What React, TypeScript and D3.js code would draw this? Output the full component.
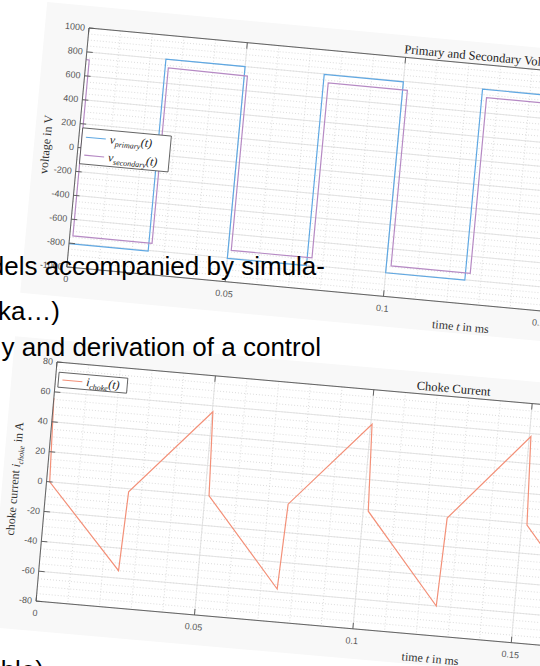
import * as d3 from 'd3';

// time in ms, voltage in V
const tPrimary = [0, 0.025, 0.025, 0.05, 0.05, 0.075, 0.075, 0.1, 0.1, 0.125, 0.125, 0.15, 0.15, 0.175, 0.175, 0.2, 0.2, 0.225, 0.225, 0.25];
const vPrimary = [-805, -805, 800, 800, -805, -805, 795, 795, -803, -803, 795, 795, -803, -803, 795, 795, -803, -803, 795, 795];
const tSecondary = [0, 0.001, 0.001, 0.026, 0.026, 0.051, 0.051, 0.0765, 0.0765, 0.1015, 0.1015, 0.1265, 0.1265, 0.1515, 0.1515, 0.1765, 0.1765, 0.2015, 0.2015, 0.2265, 0.2265, 0.25];
const vSecondary = [735, 735, -738, -738, 729, 723, -736, -736, 728, 728, -742, -742, 728, 728, -740, -740, 728, 728, -740, -740, 728, 728];

// choke current in A
const tChoke = [0, 0.001, 0.025, 0.026, 0.0502, 0.0513, 0.0752, 0.0763, 0.1004, 0.1016, 0.1255, 0.1265, 0.1505, 0.1517, 0.1755, 0.1765, 0.2005, 0.2017, 0.2255, 0.2265, 0.25];
const iChoke = [56, 0, -55, -2, 56, 0, -58, -1, 57, -1, -60, -1, 58, -1, -60, -1, 58, -1, -60, -1, 57];

const xTicks = [0, 0.05, 0.1, 0.15, 0.2, 0.25];
const voltTicks = [-1000, -800, -600, -400, -200, 0, 200, 400, 600, 800, 1000];
const chokeTicks = [-80, -60, -40, -20, 0, 20, 40, 60, 80];

const slideLines = ['dels accompanied by simula-', 'ka…)', 'y and derivation of a control', 'ble)'];

const PW = 795;
const PH = 240;
const serif = '"Liberation Serif", "DejaVu Serif", serif';
const sans = '"Liberation Sans", Arial, sans-serif';

type Series = { t: number[]; v: number[]; color: string };

function Chart({
  id, x0, y0, angle, yDomain, yTicks, yMinorStep, series, title, yLabel, legend, legendBox,
}: {
  id: string;
  x0: number;
  y0: number;
  angle: number;
  yDomain: [number, number];
  yTicks: number[];
  yMinorStep: number;
  series: Series[];
  title: string;
  yLabel: React.ReactNode;
  legend: { color: string; label: React.ReactNode }[];
  legendBox: { x: number; y: number; w: number; h: number };
}) {
  const x = d3.scaleLinear().domain([0, 0.25]).range([0, PW]);
  const y = d3.scaleLinear().domain(yDomain).range([PH, 0]);
  const xMinor = d3.range(0, 0.2501, 0.01);
  const yMinor = d3.range(yDomain[0], yDomain[1] + 0.001, yMinorStep);
  const line = d3.line<[number, number]>().x((d) => x(d[0])).y((d) => y(d[1]));
  const rowH = legendBox.h / legend.length;

  return (
    <g transform={`translate(${x0},${y0}) rotate(${angle})`}>
      <defs>
        <clipPath id={`clip-${id}`}>
          <rect x={0} y={0} width={PW} height={PH} />
        </clipPath>
      </defs>
      <rect x={-44} y={-22} width={PW + 80} height={PH + 52} fill="#f8f8f8" />
      <rect x={0} y={0} width={PW} height={PH} fill="#ffffff" />
      {xMinor.map((t) => (
        <line key={`xm${t}`} x1={x(t)} x2={x(t)} y1={0} y2={PH} stroke="#cfcfcf" strokeWidth={0.7} strokeDasharray="1 2" />
      ))}
      {yMinor.map((v) => (
        <line key={`ym${v}`} x1={0} x2={PW} y1={y(v)} y2={y(v)} stroke="#cfcfcf" strokeWidth={0.7} strokeDasharray="1 2" />
      ))}
      {xTicks.map((t) => (
        <line key={`xg${t}`} x1={x(t)} x2={x(t)} y1={0} y2={PH} stroke="#dedede" strokeWidth={0.8} />
      ))}
      {yTicks.map((v) => (
        <line key={`yg${v}`} x1={0} x2={PW} y1={y(v)} y2={y(v)} stroke="#dedede" strokeWidth={0.8} />
      ))}
      <g clipPath={`url(#clip-${id})`}>
        {series.map((s, i) => (
          <path
            key={i}
            d={line(s.t.map((t, j) => [t, s.v[j]] as [number, number])) ?? ''}
            fill="none"
            stroke={s.color}
            strokeWidth={1.2}
          />
        ))}
      </g>
      <rect x={0} y={0} width={PW} height={PH} fill="none" stroke="#5a5a5a" strokeWidth={0.9} />
      {xTicks.map((t) => (
        <g key={`xt${t}`}>
          <line x1={x(t)} x2={x(t)} y1={PH} y2={PH - 6} stroke="#5a5a5a" strokeWidth={0.9} />
          <line x1={x(t)} x2={x(t)} y1={0} y2={6} stroke="#5a5a5a" strokeWidth={0.9} />
          <text x={x(t)} y={PH + 15} textAnchor="middle" fontFamily={sans} fontSize={9} fill="#555">
            {t}
          </text>
        </g>
      ))}
      {yTicks.map((v) => (
        <g key={`yt${v}`}>
          <line x1={0} x2={6} y1={y(v)} y2={y(v)} stroke="#5a5a5a" strokeWidth={0.9} />
          <text x={-4} y={y(v) + 3} textAnchor="end" fontFamily={sans} fontSize={9} fill="#555">
            {v}
          </text>
        </g>
      ))}
      <text x={PW / 2} y={-4} textAnchor="middle" fontFamily={serif} fontSize={12.5} fill="#222">
        {title}
      </text>
      <text x={PW / 2} y={PH + 27} textAnchor="middle" fontFamily={serif} fontSize={12} fill="#333">
        time <tspan fontStyle="italic">t</tspan> in ms
      </text>
      <text
        transform={`translate(-28,${PH / 2}) rotate(-90)`}
        textAnchor="middle"
        fontFamily={serif}
        fontSize={12}
        fill="#333"
      >
        {yLabel}
      </text>
      <rect x={legendBox.x} y={legendBox.y} width={legendBox.w} height={legendBox.h} fill="#ffffff" stroke="#444" strokeWidth={0.8} />
      {legend.map((l, i) => {
        const cy = legendBox.y + rowH * (i + 0.5);
        return (
          <g key={i}>
            <line x1={legendBox.x + 4} x2={legendBox.x + 24} y1={cy} y2={cy} stroke={l.color} strokeWidth={1.1} />
            <text x={legendBox.x + 28} y={cy + 4} fontFamily={serif} fontSize={12} fontStyle="italic" fill="#222">
              {l.label}
            </text>
          </g>
        );
      })}
    </g>
  );
}

export default function App() {
  const blue = '#5fa8e3';
  const purple = '#b68ac4';
  const orange = '#f39078';
  return (
    <svg width={540} height={666} style={{ position: 'absolute', left: 0, top: 0, background: '#fff' }}>
      <Chart
        id="volt"
        x0={89}
        y0={28}
        angle={5.3}
        yDomain={[-1000, 1000]}
        yTicks={voltTicks}
        yMinorStep={50}
        series={[
          { t: tPrimary, v: vPrimary, color: blue },
          { t: tSecondary, v: vSecondary, color: purple },
        ]}
        title="Primary and Secondary Voltages"
        yLabel="voltage in V"
        legend={[
          { color: blue, label: <>v<tspan fontSize={8} dy={3}>primary</tspan><tspan dy={-3}>(t)</tspan></> },
          { color: purple, label: <>v<tspan fontSize={8} dy={3}>secondary</tspan><tspan dy={-3}>(t)</tspan></> },
        ]}
        legendBox={{ x: 3, y: 100, w: 89, h: 36 }}
      />
      <Chart
        id="choke"
        x0={57}
        y0={362}
        angle={5.0}
        yDomain={[-80, 80]}
        yTicks={chokeTicks}
        yMinorStep={5}
        series={[{ t: tChoke, v: iChoke, color: orange }]}
        title="Choke Current"
        yLabel={<>choke current <tspan fontStyle="italic">i</tspan><tspan fontStyle="italic" fontSize={8} dy={3}>choke</tspan><tspan dy={-3}> in A</tspan></>}
        legend={[
          { color: orange, label: <>i<tspan fontSize={8} dy={3}>choke</tspan><tspan dy={-3}>(t)</tspan></> },
        ]}
        legendBox={{ x: 3, y: 10, w: 69, h: 15 }}
      />
      <text x={325} y={275} textAnchor="end" fontFamily={sans} fontSize={26} fill="#000">
        {slideLines[0]}
      </text>
      <text x={60} y={320} textAnchor="end" fontFamily={sans} fontSize={26} fill="#000">
        {slideLines[1]}
      </text>
      <text x={321} y={356} textAnchor="end" fontFamily={sans} fontSize={26} fill="#000">
        {slideLines[2]}
      </text>
      <text x={44} y={679} textAnchor="end" fontFamily={sans} fontSize={26} fill="#000">
        {slideLines[3]}
      </text>
    </svg>
  );
}
